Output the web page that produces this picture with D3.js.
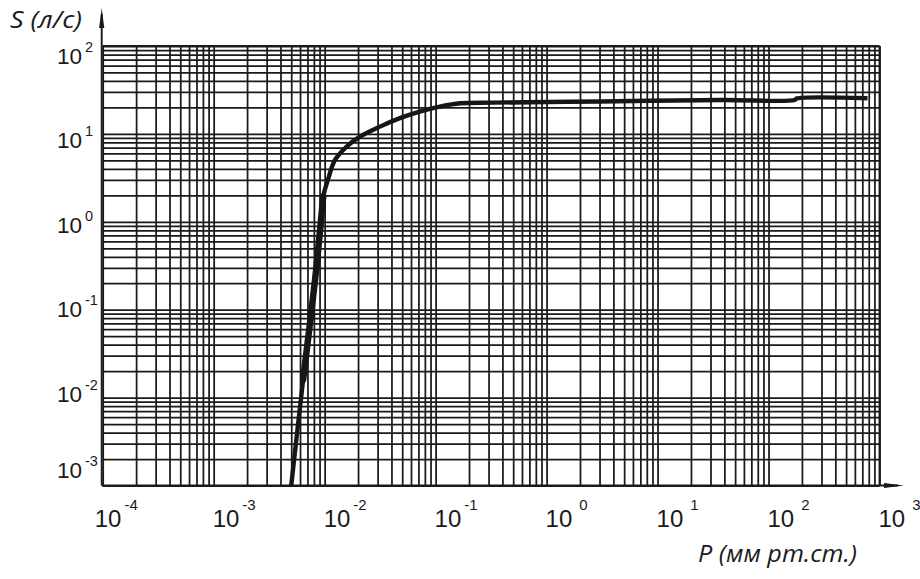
<!DOCTYPE html>
<html>
<head>
<meta charset="utf-8">
<script src="https://cdn.jsdelivr.net/npm/d3@7"></script>
<style>
  html, body { margin: 0; padding: 0; background: #fff; }
  svg { display: block; }
</style>
</head>
<body>
<svg id="chart" width="920" height="579"></svg>
<script>
// ---- data ----
const pressure = [0.005, 0.0064, 0.0082, 0.0091, 0.0097, 0.0107, 0.0124, 0.0158, 0.0208, 0.0315, 0.0477, 0.072, 0.109, 0.166, 0.33, 3.0, 38, 172, 180, 780];
const speed    = [0.001, 0.016, 0.22, 0.81, 1.94, 3.0, 5.06, 7.18, 9.3, 12.1, 15.1, 17.9, 20.4, 22.3, 22.7, 23.4, 24.3, 24.3, 25.3, 25.4];
const steepCount = 5; // points forming the steep (thicker-drawn) part of the curve
const xTickExps = [-4, -3, -2, -1, 0, 1, 2, 3];
const yTickExps = [2, 1, 0, -1, -2, -3];
const xTitle = "P (мм рт.ст.)";
const yTitle = "S (л/с)";

// ---- layout ----
const pLeft = 102.7, pRight = 879.5, pTop = 46, pBottom = 485.5;
const svg = d3.select("#chart");
const ink = "#1a1a1a";

const x = d3.scaleLog().domain([1e-4, 1e3]).range([pLeft, pRight]);
const y = d3.scaleLog().domain([1e-3, 1e2]).range([pBottom, pTop]);

// grid via axes
const gx = svg.append("g").attr("transform", `translate(0,${pBottom})`)
  .call(d3.axisBottom(x).tickValues(x.ticks()).tickSize(-(pBottom - pTop)).tickFormat(""));
const gy = svg.append("g").attr("transform", `translate(${pLeft},0)`)
  .call(d3.axisLeft(y).tickValues(y.ticks()).tickSize(-(pRight - pLeft)).tickFormat(""));
[gx, gy].forEach(g => {
  g.select(".domain").remove();
  g.selectAll(".tick line").attr("stroke", ink).attr("stroke-width", 1.75);
});

// border top/right
svg.append("line").attr("x1", pLeft).attr("x2", pRight).attr("y1", pTop).attr("y2", pTop)
  .attr("stroke", ink).attr("stroke-width", 1.9);
svg.append("line").attr("x1", pRight).attr("x2", pRight).attr("y1", pTop).attr("y2", pBottom)
  .attr("stroke", ink).attr("stroke-width", 1.9);

// axes with arrows
svg.append("line").attr("x1", pLeft - 1).attr("x2", pLeft - 1).attr("y1", pBottom).attr("y2", 14)
  .attr("stroke", ink).attr("stroke-width", 1.9);
svg.append("path").attr("d", `M${pLeft - 1},8 L${pLeft - 3.6},28 L${pLeft + 1.6},28 Z`).attr("fill", ink);
svg.append("line").attr("x1", pLeft - 1).attr("x2", 898).attr("y1", pBottom).attr("y2", pBottom)
  .attr("stroke", ink).attr("stroke-width", 1.9);
svg.append("path").attr("d", `M904,${pBottom} L884,${pBottom - 2.6} L884,${pBottom + 2.6} Z`).attr("fill", ink);

// curve
const pts = pressure.map((p, i) => ({p, s: speed[i]}));
const line = d3.line().x(d => x(d.p)).y(d => y(d.s)).curve(d3.curveCatmullRom.alpha(0.5));
svg.append("path").datum(pts).attr("d", line)
  .attr("fill", "none").attr("stroke", "#161616").attr("stroke-width", 4.4)
  .attr("stroke-linejoin", "round").attr("stroke-linecap", "butt");
// steep part appears thicker in the reference
svg.append("path").datum(pts.slice(1, steepCount)).attr("d", line)
  .attr("fill", "none").attr("stroke", "#161616").attr("stroke-width", 6.5)
  .attr("stroke-linejoin", "round").attr("stroke-linecap", "round");

// x tick labels
const tickFont = "'Liberation Sans', Arial, sans-serif";
xTickExps.forEach((e, i) => {
  const t = svg.append("text")
    .attr("x", x(Math.pow(10, e)) + (i === 0 ? -8 : -1))
    .attr("y", 527)
    .attr("font-family", tickFont).attr("font-size", 24).attr("fill", ink);
  t.append("tspan").text("10");
  t.append("tspan").attr("dy", -17).attr("dx", e >= 0 ? 7 : 3).attr("font-size", 15).text(String(e));
});

// y tick labels
yTickExps.forEach((e, i) => {
  const base = Math.min(y(Math.pow(10, e)) + 18 - 3.5 * i, pBottom - 7.5);
  const t = svg.append("text")
    .attr("x", 57).attr("y", base)
    .attr("font-family", tickFont).attr("font-size", 22.5).attr("fill", ink);
  t.append("tspan").text("10");
  t.append("tspan").attr("dy", -12).attr("dx", 3).attr("font-size", 14.5).text(String(e));
});

// titles
svg.append("text").attr("x", 10).attr("y", 28)
  .attr("font-family", "'Open Sans', sans-serif").attr("font-style", "italic")
  .attr("font-size", 23).attr("fill", ink)
  .attr("textLength", 72).attr("lengthAdjust", "spacingAndGlyphs").text(yTitle);
svg.append("text").attr("x", 698).attr("y", 562)
  .attr("font-family", "'Open Sans', sans-serif").attr("font-style", "italic")
  .attr("font-size", 23).attr("fill", ink)
  .attr("textLength", 159).attr("lengthAdjust", "spacingAndGlyphs").text(xTitle);
</script>
</body>
</html>
